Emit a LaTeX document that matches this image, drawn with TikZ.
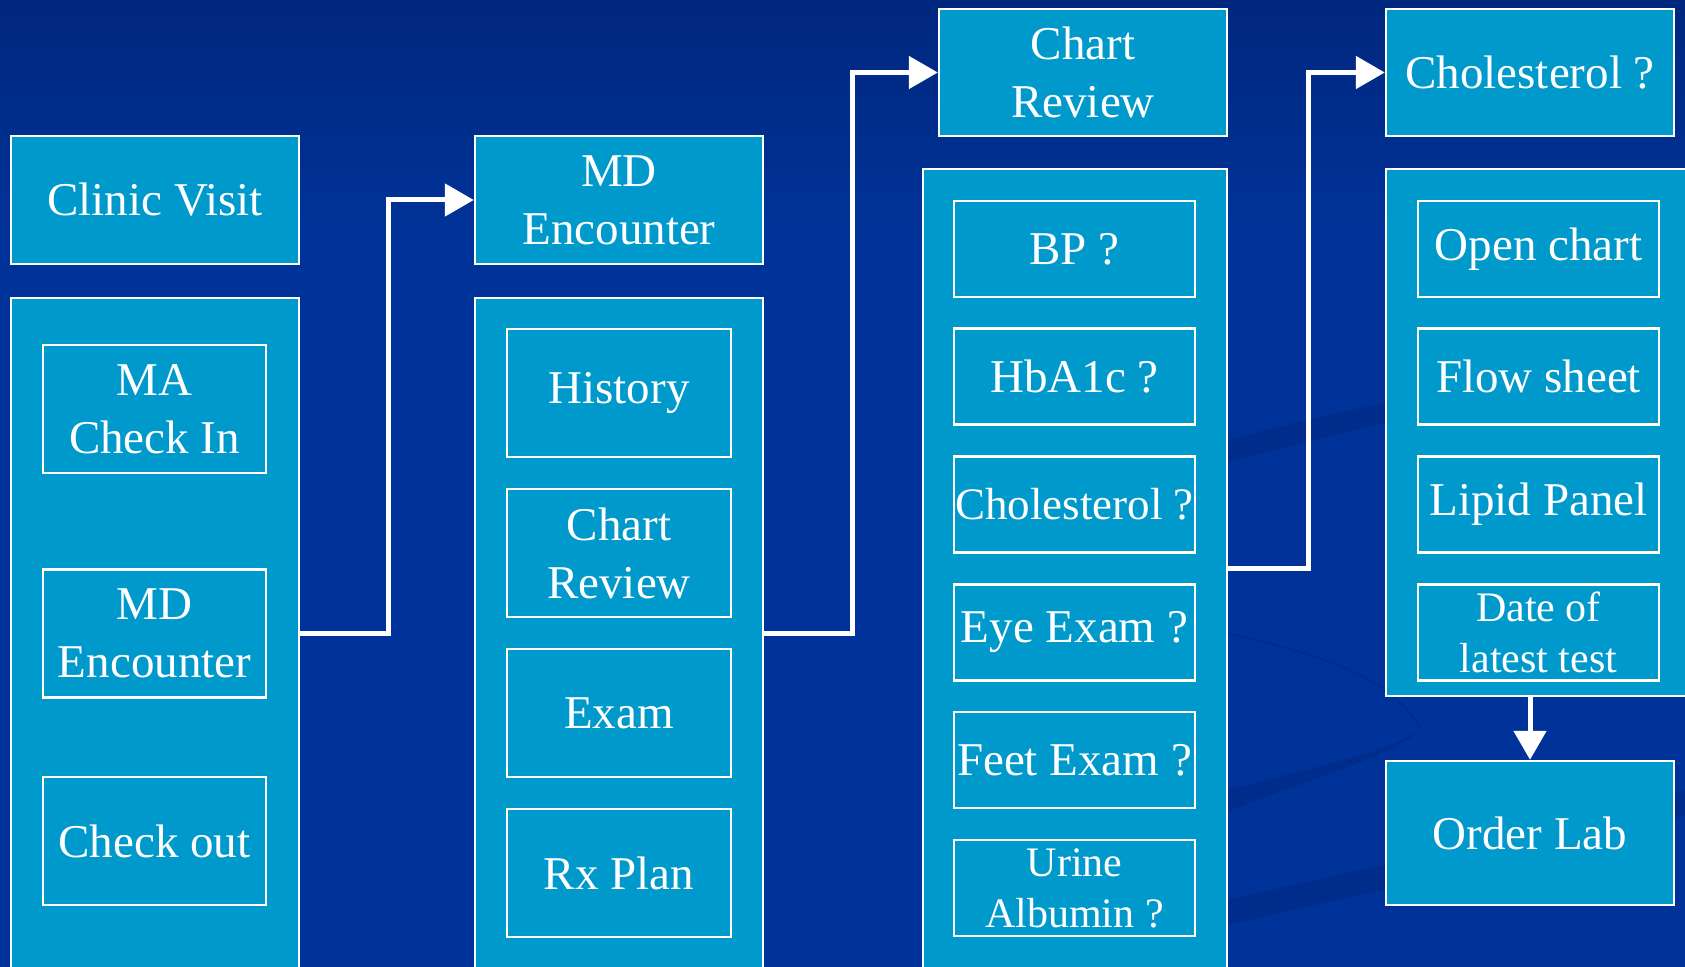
\documentclass[tikz,border=0pt]{standalone}
\usepackage{fontspec}
\setmainfont{Liberation Serif}
\usetikzlibrary{arrows.meta,calc}
\definecolor{bgblue}{HTML}{003399}
\definecolor{bgtop}{HTML}{00277E}
\definecolor{boxblue}{HTML}{0099CC}
\definecolor{swoosh}{HTML}{002D8B}
\begin{document}
\begin{tikzpicture}[x=0.5pt, y=-0.5pt,
        panel/.style={draw=white, line width=1.2pt, fill=boxblue, inner sep=0pt},
        box/.style={panel, text=white, align=center, font=\fontsize{23.5}{29}\selectfont},
        small/.style={font=\fontsize{21}{25.5}\selectfont},
        tight/.style={font=\fontsize{22.5}{28}\selectfont},
        flow/.style={draw=white, line width=2.5pt, -{Triangle[length=14.5pt,width=16pt]}}]
        \useasboundingbox (0,0) rectangle (1685,967);
        \clip (0,0) rectangle (1685,967);
        \fill[bgblue] (0,0) rectangle (1685,967);
        \shade[top color=bgtop, bottom color=bgblue] (0,0) rectangle (1685,240);
        \fill[swoosh] (1227,440) .. controls (1300,420) and (1350,410) .. (1400,400) -- (1400,420) .. controls (1350,430) and (1300,445) .. (1227,462) -- cycle;
        \fill[swoosh] (1227,790) .. controls (1320,765) and (1400,750) .. (1420,728) .. controls (1405,752) and (1320,775) .. (1227,812) -- cycle;
        \fill[swoosh] (1227,900) .. controls (1400,860) and (1600,820) .. (1685,790) -- (1685,815) .. controls (1600,845) and (1400,885) .. (1227,925) -- cycle;
        \draw[swoosh, line width=1pt] (1227,633) .. controls (1320,655) and (1390,675) .. (1420,728);

        \node[panel, minimum width=144pt, minimum height=341pt] (visit) at (155,639) {};
        \node[box, minimum width=144pt, minimum height=64pt] (clinic) at (155,200) {Clinic Visit};
        \node[box, minimum width=111.5pt, minimum height=64pt] (ma) at (154.5,409) {MA\\Check In};
        \node[box, minimum width=111.5pt, minimum height=64pt] (mdin) at (154.5,633.5) {MD\\Encounter};
        \node[box, minimum width=111.5pt, minimum height=64pt] (checkout) at (154.5,841) {Check out};

        \node[panel, minimum width=144pt, minimum height=341pt] (encounter) at (619,639) {};
        \node[box, minimum width=144pt, minimum height=64pt] (md) at (619,200) {MD\\Encounter};
        \node[box, minimum width=112pt, minimum height=64pt] (history) at (619,393) {History};
        \node[box, minimum width=112pt, minimum height=64pt] (chartin) at (619,553) {Chart\\Review};
        \node[box, minimum width=112pt, minimum height=64pt] (exam) at (619,713) {Exam};
        \node[box, minimum width=112pt, minimum height=64pt] (rx) at (619,873) {Rx Plan};

        \node[panel, minimum width=152pt, minimum height=405.5pt] (review) at (1075,574.5) {};
        \node[box, minimum width=144pt, minimum height=63.5pt] (chart) at (1083,72.5) {Chart\\Review};
        \node[box, minimum width=120.5pt, minimum height=48pt] (bp) at (1074.5,249) {BP ?};
        \node[box, minimum width=120.5pt, minimum height=48pt] (hba) at (1074.5,376.5) {HbA1c ?};
        \node[box, tight, minimum width=120.5pt, minimum height=48pt] (cholq) at (1074.5,504.5) {Cholesterol ?};
        \node[box, minimum width=120.5pt, minimum height=48pt] (eye) at (1074.5,632.5) {Eye Exam ?};
        \node[box, minimum width=120.5pt, minimum height=48pt] (feet) at (1074.5,760) {Feet Exam ?};
        \node[box, small, minimum width=120.5pt, minimum height=48pt] (urine) at (1074.5,888) {Urine\\Albumin ?};

        \node[panel, minimum width=157pt, minimum height=263.5pt] (labs) at (1543,432.5) {};
        \node[box, minimum width=144pt, minimum height=63.5pt] (cholhdr) at (1530,72.5) {Cholesterol ?};
        \node[box, minimum width=120.5pt, minimum height=48pt] (open) at (1538.5,249) {Open chart};
        \node[box, minimum width=120.5pt, minimum height=48pt] (flowsheet) at (1538.5,376.5) {Flow sheet};
        \node[box, minimum width=120.5pt, minimum height=48pt] (lipid) at (1538.5,504.5) {Lipid Panel};
        \node[box, small, minimum width=120.5pt, minimum height=48pt] (date) at (1538.5,632.5) {Date of\\latest test};
        \node[box, minimum width=144pt, minimum height=72pt] (order) at (1530,833) {Order Lab};

        \coordinate (gap) at ($(cholq.south)!.5!(eye.north)$);
        \draw[flow] (visit.east |- mdin) -- ++(88,0) |- (md.west);
        \draw[flow] (encounter.east |- mdin) -- ++(88,0) |- (chart.west);
        \draw[flow] (review.east |- gap) -- ++(80,0) |- (cholhdr.west);
        \draw[flow] (order.north |- labs.south) -- (order.north);
    \end{tikzpicture}
\end{document}
